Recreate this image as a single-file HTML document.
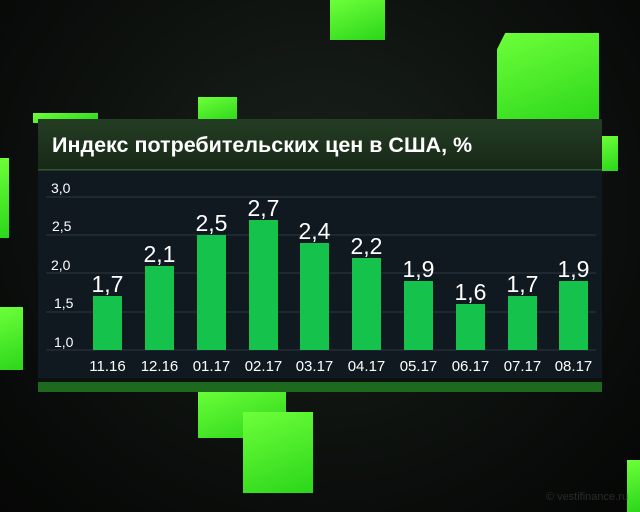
<!DOCTYPE html>
<html><head><meta charset="utf-8"><style>
body{margin:0;width:640px;height:512px;overflow:hidden;background:radial-gradient(ellipse at 50% 40%,#1a221c 0%,#0a0d0b 70%,#050605 100%);font-family:"Liberation Sans","DejaVu Sans",sans-serif;position:relative}
.c{position:absolute;background:linear-gradient(160deg,#6dff3a,#2bd61a)}
</style></head><body>
<div class="c" style="left:330px;top:0;width:55px;height:40px"></div>
<div class="c" style="left:497px;top:33px;width:102px;height:90px;clip-path:polygon(8% 0,100% 0,100% 100%,0 100%,0 18%)"></div>
<div class="c" style="left:198px;top:97px;width:39px;height:25px"></div>
<div class="c" style="left:33px;top:113px;width:65px;height:10px"></div>
<div class="c" style="left:0;top:158px;width:9px;height:80px"></div>
<div class="c" style="left:598px;top:136px;width:20px;height:35px"></div>
<div class="c" style="left:0;top:307px;width:23px;height:63px"></div>
<div class="c" style="left:198px;top:388px;width:88px;height:50px"></div>
<div class="c" style="left:243px;top:412px;width:70px;height:81px"></div>
<div class="c" style="left:627px;top:460px;width:13px;height:52px"></div>
<svg width="640" height="512" style="position:absolute;left:0;top:0">
<defs><linearGradient id="tg" x1="0" y1="0" x2="0" y2="1"><stop offset="0" stop-color="#243d24"/><stop offset="1" stop-color="#172817"/></linearGradient></defs>
<rect x="38" y="119" width="564" height="51" fill="url(#tg)"/>
<rect x="38" y="170" width="564" height="208" fill="#101820"/>
<rect x="38" y="378" width="564" height="4" fill="#0c120d"/>
<rect x="38" y="382" width="564" height="10" fill="#1d6a1f"/>
<rect x="38" y="169" width="564" height="1.5" fill="#2f5a30"/>
<text x="52" y="152" fill="#fff" font-size="21.5" font-weight="bold">Индекс потребительских цен в США, %</text>
<g stroke="#26313a" stroke-width="1.2">
<line x1="46" x2="596" y1="197" y2="197"/><line x1="46" x2="596" y1="235" y2="235"/>
<line x1="46" x2="596" y1="273" y2="273"/><line x1="46" x2="596" y1="312" y2="312"/>
<line x1="46" x2="596" y1="350" y2="350"/></g>
<g fill="#fff" font-size="14">
<text x="51" y="193">3,0</text><text x="52" y="231">2,5</text><text x="51" y="270">2,0</text><text x="54" y="308">1,5</text><text x="54" y="347">1,0</text></g>
<g fill="#14c24c">
<rect x="93" y="296" width="29" height="54"/><rect x="145" y="266" width="29" height="84"/>
<rect x="197" y="235" width="29" height="115"/><rect x="249" y="220" width="29" height="130"/>
<rect x="300" y="243" width="29" height="107"/><rect x="352" y="258" width="29" height="92"/>
<rect x="404" y="281" width="29" height="69"/><rect x="456" y="304" width="29" height="46"/>
<rect x="508" y="296" width="29" height="54"/><rect x="559" y="281" width="29" height="69"/></g>
<g fill="#fff" font-size="23" text-anchor="middle">
<text x="107.5" y="292">1,7</text><text x="159.5" y="262">2,1</text><text x="211.5" y="231">2,5</text>
<text x="263.5" y="216">2,7</text><text x="314.5" y="239">2,4</text><text x="366.5" y="254">2,2</text>
<text x="418.5" y="277">1,9</text><text x="470.5" y="300">1,6</text><text x="522.5" y="292">1,7</text><text x="573.5" y="277">1,9</text></g>
<g fill="#fff" font-size="15" text-anchor="middle">
<text x="107.5" y="371">11.16</text><text x="159.5" y="371">12.16</text><text x="211.5" y="371">01.17</text>
<text x="263.5" y="371">02.17</text><text x="314.5" y="371">03.17</text><text x="366.5" y="371">04.17</text>
<text x="418.5" y="371">05.17</text><text x="470.5" y="371">06.17</text><text x="522.5" y="371">07.17</text><text x="573.5" y="371">08.17</text></g>
<text x="628" y="500" fill="#2a2a2a" font-size="11" text-anchor="end">© vestifinance.ru</text>
</svg>
</body></html>
